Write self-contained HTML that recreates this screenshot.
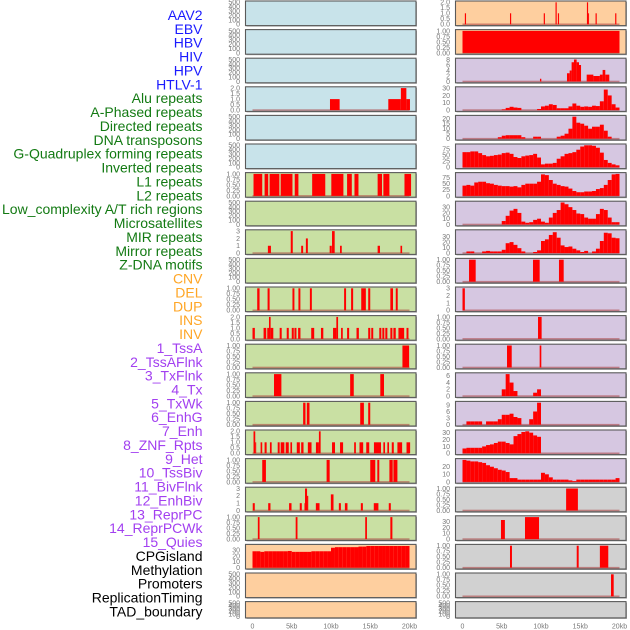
<!DOCTYPE html>
<html><head><meta charset="utf-8"><style>
html,body{margin:0;padding:0;background:#fff;width:630px;height:630px;overflow:hidden}
svg{display:block}
text{font-family:"Liberation Sans",sans-serif}
</style></head><body>
<svg id="chart" width="630" height="630" viewBox="0 0 630 630" xmlns="http://www.w3.org/2000/svg"></svg>
<script>
// ---- data ----
const trackLabels = ["AAV2","EBV","HBV","HIV","HPV","HTLV-1","Alu repeats","A-Phased repeats","Directed repeats","DNA transposons","G-Quadruplex forming repeats","Inverted repeats","L1 repeats","L2 repeats","Low_complexity A/T rich regions","Microsatellites","MIR repeats","Mirror repeats","Z-DNA motifs","CNV","DEL","DUP","INS","INV","1_TssA","2_TssAFlnk","3_TxFlnk","4_Tx","5_TxWk","6_EnhG","7_Enh","8_ZNF_Rpts","9_Het","10_TssBiv","11_BivFlnk","12_EnhBiv","13_ReprPC","14_ReprPCWk","15_Quies","CPGisland","Methylation","Promoters","ReplicationTiming","TAD_boundary"];
const labelGroups = ["virus","virus","virus","virus","virus","virus","repeat","repeat","repeat","repeat","repeat","repeat","repeat","repeat","repeat","repeat","repeat","repeat","repeat","sv","sv","sv","sv","sv","state","state","state","state","state","state","state","state","state","state","state","state","state","state","state","other","other","other","other","other"];
const xTickKb = [0,5,10,15,20];
const xTickLabels = ["0","5kb","10kb","15kb","20kb"];

const ticks500 = [0,100,200,300,400,500];
const ticks1 = [0,0.25,0.5,0.75,1];
const ticks2 = [0,0.5,1,1.5,2];
const ticks3 = [0,1,2,3];

// left column segments [startKb, endKb, value]
const segL3 = [[9.87,11.1,1],[17.3,18.9,1],[18.9,19.6,2],[19.6,20.06,1]];
const segL6 = [[0.13,1.24,1],[1.54,2.0,1],[2.18,3.42,1],[3.59,5.09,1],[5.38,5.85,1],[7.6,9.27,1],[10.04,11.58,1],[12.05,12.65,1],[12.99,13.5,1],[15.94,16.5,1],[16.67,17.44,1],[19.36,20.2,1]];
const segL8 = [[1.96,2.35,1],[4.87,5.13,3],[6.2,6.45,1],[6.8,7.05,2],[9.83,10.1,1],[10.13,10.47,3],[11.15,11.37,1],[15.94,16.24,1],[18.85,19.06,1]];
const segL10 = [[0.6,0.9,1],[1.92,2.18,1],[5.09,5.34,1],[5.85,6.1,1],[7.31,7.56,1],[11.67,11.92,1],[12.56,12.82,1],[13.85,14.44,1],[14.74,15.0,1],[17.56,17.9,1],[18.25,18.5,1]];
const segL11 = [[0,0.3,1],[1.41,1.75,1],[1.88,2.1,1],[2.1,2.31,2],[2.31,2.65,1],[3.46,3.72,1],[4.36,4.62,1],[5.0,5.26,1],[5.34,5.6,1],[5.81,6.11,1],[7.48,7.86,1],[8.72,9.02,1],[10.26,10.68,1],[10.68,10.9,2],[11.28,11.5,1],[12.05,12.31,1],[13.25,13.55,1],[14.74,15.0,1],[15.13,15.38,1],[16.15,16.41,1],[16.54,16.79,1],[16.92,17.18,1],[17.56,17.82,1],[17.95,18.25,1],[18.59,19.32,1],[19.62,19.87,1]];
const segL12 = [[19.1,19.95,1]];
const segL13 = [[2.74,3.68,1],[12.44,12.9,1],[16.28,16.75,1]];
const segL14 = [[6.45,6.75,1],[6.92,7.26,1],[13.72,14.19,1],[14.74,15.0,1]];
const segL15 = [[0.13,0.35,2],[0.35,0.47,1],[1.03,1.24,1],[1.54,1.8,1],[2.22,2.44,1],[3.21,3.46,1],[3.59,4.06,1],[4.23,4.62,1],[4.83,5.04,1],[5.64,6.03,1],[6.2,6.5,1],[7.05,7.52,1],[8.08,8.46,1],[8.46,8.68,2],[10.13,10.51,1],[11.15,11.54,1],[12.95,13.17,1],[13.63,14.1,1],[14.49,14.87,1],[15.47,16.37,1],[16.67,16.88,1],[17.18,17.39,1],[17.74,18.0,1],[18.46,19.06,1],[19.62,20.08,1]];
const segL16 = [[1.24,1.71,1],[9.44,9.83,1],[15.0,15.64,1],[15.9,16.15,1],[17.44,17.86,1],[17.95,18.46,1]];
const segL17 = [[0.03,0.29,1],[2.0,2.29,1],[4.66,4.97,1],[6.02,6.28,1],[6.62,6.69,1],[6.69,6.95,3],[6.95,7.1,2],[8.07,8.54,1],[9.98,10.32,2.2],[11.0,11.26,1],[11.77,12.1,1],[13.8,14.06,1],[15.45,16.04,1],[17.36,17.62,1]];
const segL18 = [[0.68,0.9,1],[5.5,5.73,1],[14.36,14.58,1],[17.56,17.82,1]];
const binL19 = [28,28,27,28,28,28,28,28,28,28.5,27,27,27,27,27,28,28,28,28,28,34,35,35,35,35,35,35,36,36,37,37,37,37,37,37,37,37,37,37,37];

// right column
const segR0 = [[0.3,0.45,1],[6.05,6.2,1],[10.35,10.5,1],[11.85,12.0,2],[12.15,12.3,1],[15.85,16.0,2],[16.0,16.12,1],[16.95,17.1,1],[19.45,19.6,1]];
const segR1 = [[0,20,1]];
const segR2 = [[9.87,10.04,1],[13.31,13.65,3],[13.65,13.9,4],[13.9,14.2,7],[14.2,14.54,8],[14.54,14.84,7],[14.84,15.1,6],[15.82,16.67,2.5],[16.67,17.5,2],[17.5,17.85,2.5],[17.85,18.19,4.2],[18.19,18.7,2.5]];
const binR3 = [0,0,0,0,0,0,0,0,0,0,1,3,4.5,3.5,3,0,0,0,0,1.5,5,6,8,7,2.5,2.5,2.5,5,9,6,4.5,5,4.5,6,5.5,12,28,20,8,3.5];
const binR4 = [0,0,0,0,0,0,0,0,0,1.5,3,3.5,3.5,3.5,3.5,1.5,0,0,2,2,0,0,0,0,2,3,5,10,22,16,15,13,10,12,12,14,8,2,0,0];
const binR5 = [62,62,65,65,58,50,45,47,50,52,58,60,55,42,38,45,48,50,55,40,12,15,15,18,35,45,55,58,62,72,85,90,90,88,80,60,30,18,12,8];
const binR6 = [42,45,42,55,58,58,52,50,45,42,40,40,38,40,35,45,50,50,50,58,88,85,65,50,45,40,38,30,20,15,15,18,18,20,28,32,45,65,88,90];
const binR7 = [0,0,0,0,0,0,0,0,0,0,6,15,24,27,20,5,3,4,8,10,5,3,12,20,25,38,35,30,25,19,18,12,10,10,18,27,25,12,4,4];
const binR8 = [0,3,3,0,0,3,4,3,3,3,6,18,20,15,9,3,0,0,2,5,22,25,33,38,28,14,11,12,8,5,2,4,0,3,8,22,37,36,28,27];
const segR9 = [[0.83,1.68,1],[8.98,9.83,1],[12.29,12.89,1]];
const segR10 = [[0,0.3,3]];
const segR11 = [[9.62,10.08,1]];
const segR12 = [[5.67,6.27,1],[9.83,10.04,1]];
const binR13 = [0,0,0,0,0,0,0,0,0,0,2,6.5,4,1.5,0,0,0,0,1,2,0,0,0,0,0,0,0,0,0,0,0,0,0,0,0,0,0,0,0,0];
const binR14 = [0,1.5,1.5,1.5,1.5,0,1.5,1.5,1.5,2.5,4.5,4.5,5,3.5,3,0,0,2.5,6,10,0,0,0,0,0,0,0,0,0,0,0,0,0,0,0,0,0,0,0,0];
const binR15 = [7,8,8,8,8,10,12,13,15,17,17,15,13,25,28,31,32,30,26,24,0,0,0,0,0,0,0,0,0,0,0,0,0,0,0,0,0,0,0,0];
const binR16 = [29,28,27,27,26,25,22,20,18,16,15,13,5,5,3,3,3,3,3,3,12,10,6,3,3,3,3,2,1,3,3,3,3,3,3,3,3,3,3,5];
const segR17 = [[13.2,14.7,1]];
const segR18 = [[4.9,5.4,33],[7.96,9.75,38]];
const segR19 = [[6.05,6.3,1],[14.55,14.8,1],[17.5,18.57,1]];
const segR20 = [[18.92,19.26,1]];

// panel specs: [bg, ymax, ticks, tickLabels, data, kind]
const leftPanels = [
 ["blue",500,ticks500,null,null,""],["blue",500,ticks500,null,null,""],["blue",500,ticks500,null,null,""],
 ["blue",2,ticks2,["0.0","0.5","1.0","1.5","2.0"],segL3,"s"],
 ["blue",500,ticks500,null,null,""],["blue",500,ticks500,null,null,""],
 ["green",1,ticks1,null,segL6,"s"],["green",500,ticks500,null,null,""],
 ["green",3,ticks3,null,segL8,"s"],["green",500,ticks500,null,null,""],
 ["green",1,ticks1,null,segL10,"s"],["green",2,ticks2,["0.0","0.5","1.0","1.5","2.0"],segL11,"s"],
 ["green",1,ticks1,null,segL12,"s"],["green",1,ticks1,null,segL13,"s"],["green",1,ticks1,null,segL14,"s"],
 ["green",2,ticks2,["0.0","0.5","1.0","1.5","2.0"],segL15,"s"],["green",1,ticks1,null,segL16,"s"],
 ["green",3,ticks3,null,segL17,"s"],["green",1,ticks1,null,segL18,"s"],
 ["orange",37.5,[0,10,20,30],null,binL19,"b"],["orange",500,ticks500,null,null,""],["orange",500,ticks500,null,null,""]
];
const rightPanels = [
 ["orange",2,ticks2,["0.0","0.5","1.0","1.5","2.0"],segR0,"s"],["orange",1,ticks1,null,segR1,"s"],
 ["purple",8,[0,2,4,6,8],null,segR2,"s"],["purple",30,[0,10,20,30],null,binR3,"b"],
 ["purple",22,[0,5,10,15,20],null,binR4,"b"],["purple",90,[0,25,50,75],null,binR5,"b"],
 ["purple",90,[0,25,50,75],null,binR6,"b"],["purple",38,[0,10,20,30],null,binR7,"b"],
 ["purple",40,[0,10,20,30],null,binR8,"b"],["purple",1,ticks1,null,segR9,"s"],
 ["purple",3,ticks3,null,segR10,"s"],["purple",1,ticks1,null,segR11,"s"],["purple",1,ticks1,null,segR12,"s"],
 ["purple",6.5,[0,2,4,6],null,binR13,"b"],["purple",10,[0,3,6,9],null,binR14,"b"],
 ["purple",32,[0,10,20,30],null,binR15,"b"],["purple",29,[0,10,20],null,binR16,"b"],
 ["gray",1,ticks1,null,segR17,"s"],["gray",38,[0,10,20,30],null,segR18,"s"],
 ["gray",1,ticks1,null,segR19,"s"],["gray",1,ticks1,null,segR20,"s"],["gray",500,ticks500,null,null,""]
];

// ---- drawing ----
const NS = "http://www.w3.org/2000/svg";
const svg = document.getElementById("chart");
const bgColors = {blue:"#c8e3ea",green:"#c9e0a3",orange:"#fecf9f",purple:"#d6c7e1",gray:"#d1d1d1"};
const labelColors = {virus:"#1a1aff",repeat:"#137a13",sv:"#ffa626",state:"#a23ff0",other:"#000000"};
function mk(tag, attrs, parent){const e=document.createElementNS(NS,tag);for(const k in attrs)e.setAttribute(k,attrs[k]);(parent||svg).appendChild(e);return e;}
function fmt(v,step){ if(step<0.5) return v.toFixed(2); if(step<1) return v.toFixed(1); return String(v); }

trackLabels.forEach((t,i)=>{
  const el = mk("text",{x:202.5,y:20+13.87*i,"text-anchor":"end","font-size":"14",fill:labelColors[labelGroups[i]]});
  el.textContent = t;
  
  
});

function drawColumn(panels, px, x0, colName){
  const pw = 170.5, kx = 7.85;
  const xs = kb => x0 + kb*kx;
  panels.forEach((p,i)=>{
    const [bg,ymax,tks,tlabels,data,kind] = p;
    const top = 1 + i*28.6;
    const h = (i===panels.length-1) ? 16.3 : 24.6;
    const g = mk("g",{});
    
    
    mk("rect",{x:px+1,y:top+1,width:pw,height:h,fill:"#aaa"},g);
    mk("rect",{x:px,y:top,width:pw,height:h,fill:bgColors[bg]},g);
    const ys = v => top + h - 1.3 - (v/ymax)*(h-2.6);
    const step = tks.length>1 ? tks[1]-tks[0] : 1;
    tks.forEach((v,j)=>{
      const t = mk("text",{x:px-5.5,y:ys(v)+2.4,"text-anchor":"end","font-size":"7",fill:"#777"},g);
      t.textContent = tlabels ? tlabels[j] : fmt(v,step);
      
      
    });
    if(data){
      mk("rect",{x:xs(0),y:ys(0)-0.8,width:xs(20)-xs(0),height:1.6,fill:"rgba(170,60,60,0.55)"},g);
      const bars = kind==="b" ? data.map((v,k)=>[k*0.5,k*0.5+0.5,v]) : data;
      bars.forEach(b=>{
        if(b[2]<=0) return;
        const r = mk("rect",{x:xs(b[0]),y:ys(b[2]),width:Math.max(0.8,xs(b[1])-xs(b[0])),height:ys(0)-ys(b[2]),fill:"#ff0000"},g);
        
        
      });
    }
    mk("rect",{x:px,y:top,width:pw,height:h,fill:"none",stroke:"#5a5a5a","stroke-width":"1.1"},g);
  });
  xTickKb.forEach((kb,j)=>{
    const t = mk("text",{x:xs(kb),y:628.5,"text-anchor":"middle","font-size":"7",fill:"#777"});
    t.textContent = xTickLabels[j];
    
    
  });
}
drawColumn(leftPanels, 245.5, 252.5, "left");
drawColumn(rightPanels, 455.5, 462.5, "right");
</script>
</body></html>
